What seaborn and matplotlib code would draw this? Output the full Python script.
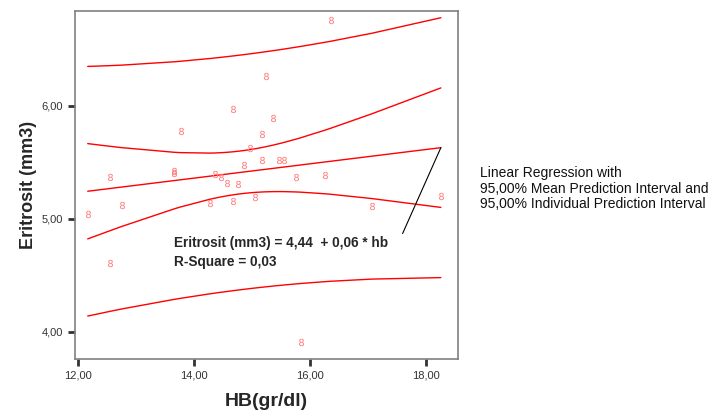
import numpy as np
import pandas as pd
import matplotlib
matplotlib.use("Agg")
import matplotlib.pyplot as plt
import seaborn as sns
from matplotlib.ticker import FuncFormatter

# data
hb = [12.17, 12.56, 12.76, 12.56, 13.77, 13.66, 13.66, 14.37, 14.46, 14.57,
      14.76, 14.28, 14.67, 14.87, 14.97, 14.67, 15.06, 15.17, 15.17, 15.25,
      15.37, 15.47, 15.56, 15.76, 15.84, 16.26, 16.36, 17.07, 18.26]
eritrosit = [5.04, 4.61, 5.12, 5.37, 5.78, 5.41, 5.42, 5.40, 5.37, 5.32,
             5.31, 5.14, 5.16, 5.48, 5.63, 5.97, 5.19, 5.52, 5.75, 6.26,
             5.89, 5.52, 5.52, 5.37, 3.91, 5.39, 6.76, 5.11, 5.20]
x_ticks = [12, 14, 16, 18]
y_ticks = [4, 5, 6]
legend_lines = ["Linear Regression with",
                "95,00% Mean Prediction Interval and",
                "95,00% Individual Prediction Interval"]

df = pd.DataFrame({"hb": hb, "eritrosit": eritrosit})

# OLS fit + intervals, evaluated at the data x values like SPSS does
n = len(df)
b1, b0 = np.polyfit(df.hb, df.eritrosit, 1)
resid = df.eritrosit - (b0 + b1 * df.hb)
s = np.sqrt((resid ** 2).sum() / (n - 2))
t = 2.052  # t(0.975, df=27)
xs = np.sort(df.hb.unique())
xm = df.hb.mean()
sxx = ((df.hb - xm) ** 2).sum()
fit = b0 + b1 * xs
se_mean = s * np.sqrt(1 / n + (xs - xm) ** 2 / sxx)
se_ind = s * np.sqrt(1 + 1 / n + (xs - xm) ** 2 / sxx)
curves = pd.DataFrame({
    "x": np.tile(xs, 5),
    "y": np.concatenate([fit, fit - t * se_mean, fit + t * se_mean,
                         fit - t * se_ind, fit + t * se_ind]),
    "curve": np.repeat(["fit", "m_lo", "m_hi", "i_lo", "i_hi"], len(xs)),
})

sns.set_style("white")
plt.rcParams["font.family"] = ["Liberation Sans", "DejaVu Sans"]

fig = plt.figure(figsize=(7.14, 4.17), dpi=100)
ax = fig.add_axes([0.105, 0.139, 0.536, 0.835])

sns.lineplot(data=curves, x="x", y="y", units="curve", estimator=None,
             color="#ff0000", lw=1.0, ax=ax, sort=False)
sns.scatterplot(data=df, x="hb", y="eritrosit", marker="$8$", s=28,
                color="#ff7a7a", linewidth=0, ax=ax, zorder=3)

ax.set_xlim(11.95, 18.55)
ax.set_ylim(3.76, 6.84)
ax.set_xticks(x_ticks)
ax.set_yticks(y_ticks)
fmt = FuncFormatter(lambda v, p: f"{v:.2f}".replace(".", ","))
ax.xaxis.set_major_formatter(fmt)
ax.yaxis.set_major_formatter(fmt)
ax.tick_params(axis="both", direction="out", length=5, width=2,
               color="#333333", labelsize=8, labelcolor="#333333",
               bottom=True, left=True)
for sp in ax.spines.values():
    sp.set_color("#808080")
    sp.set_linewidth(1.2)

ax.set_xlabel("HB(gr/dl)", fontsize=14, fontweight="bold", labelpad=9)
ax.set_ylabel("Eritrosit (mm3)", fontsize=13, fontweight="bold", labelpad=3)

# equation label with a plain leader line to the end of the fit line
ax.text(13.65, 4.705, "Eritrosit (mm3) = 4,44  + 0,06 * hb\nR-Square = 0,03",
        fontsize=9.8, fontweight="bold", va="center", ha="left",
        linespacing=1.45)
ax.annotate("", xy=(xs[-1], fit[-1]), xytext=(17.6, 4.87),
            arrowprops=dict(arrowstyle="-", color="black", lw=0.8,
                            shrinkA=0, shrinkB=0))

fig.text(480 / 714, 1 - 166 / 417, "\n".join(legend_lines), fontsize=10,
         va="top", ha="left", linespacing=1.15, color="#111111")

fig.savefig("out.png", dpi=100)
